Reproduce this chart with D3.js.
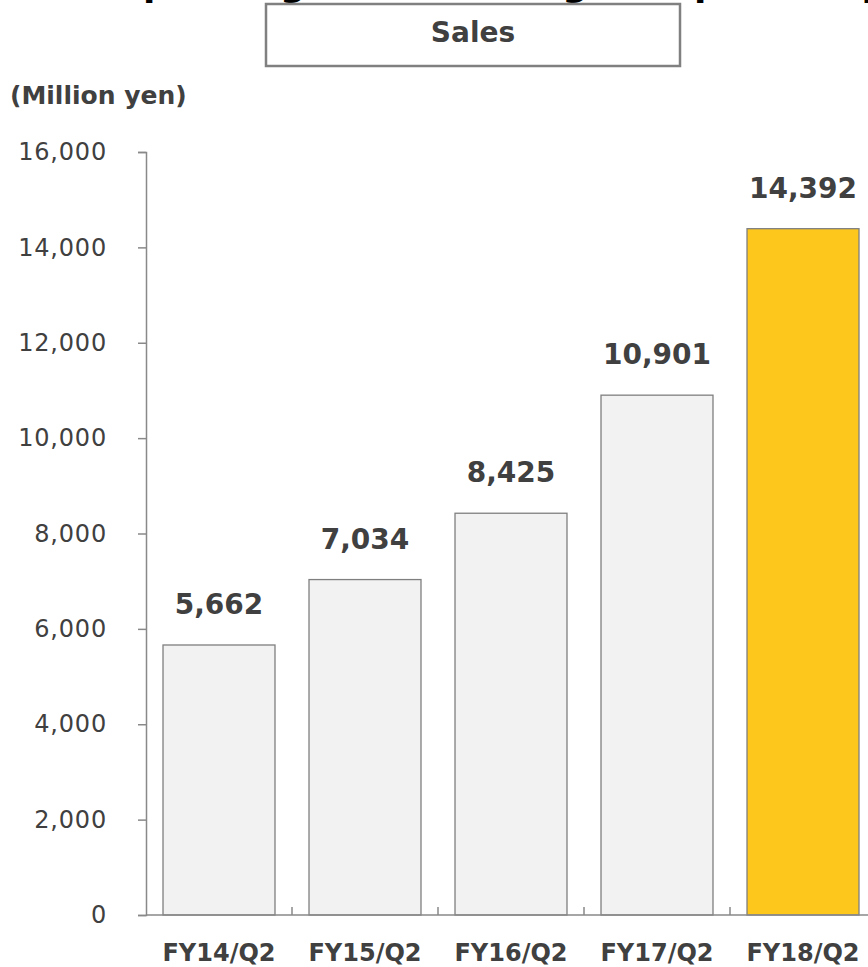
<!DOCTYPE html>
<html>
<head>
<meta charset="utf-8">
<script src="https://cdn.jsdelivr.net/npm/d3@7"></script>
<style>
  html, body { margin: 0; padding: 0; background: #fff; }
  svg { display: block; font-family: "DejaVu Sans", Verdana, sans-serif; }
</style>
</head>
<body>
<svg id="chart" width="868" height="967"></svg>
<script>
// Half-year (Q2 cumulative) sales, million yen
const categories = ["FY14/Q2", "FY15/Q2", "FY16/Q2", "FY17/Q2", "FY18/Q2"];
const sales = [5662, 7034, 8425, 10901, 14392];
const yTicks = [0, 2000, 4000, 6000, 8000, 10000, 12000, 14000, 16000];

const svg = d3.select("#chart");
const textColor = "#404040";
const axisColor = "#898989";

// Page headline (runs off the top edge of the slide)
const headline = svg.append("text")
  .attr("x", 0).attr("y", -4)
  .attr("font-size", 36).attr("font-weight", "bold").attr("fill", "#000")
  .text("Sales up 32% growth in a big H1 uptick to profit");
{
  const node = headline.node();
  const idx = node.textContent.indexOf("p");
  const px = node.getStartPositionOfChar(idx).x;
  headline.attr("x", 148 - 5 - px);
}

// Boxed panel title
svg.append("rect")
  .attr("x", 266).attr("y", 4).attr("width", 414).attr("height", 62)
  .attr("fill", "#fff").attr("stroke", "#808080").attr("stroke-width", 2.5);
svg.append("text")
  .attr("x", 473).attr("y", 42)
  .attr("text-anchor", "middle")
  .attr("font-size", 28).attr("font-weight", "bold").attr("fill", textColor)
  .text("Sales");

// Unit label
svg.append("text")
  .attr("x", 10).attr("y", 104)
  .attr("font-size", 25).attr("font-weight", "bold").attr("fill", textColor)
  .text("(Million yen)");

const y = d3.scaleLinear().domain([0, 16000]).range([915, 152]);
const x = d3.scaleBand().domain(categories).range([146, 876])
  .paddingInner(0.233).paddingOuter(0.1165);

// Y axis
const yAxis = svg.append("g")
  .attr("transform", "translate(146,0)")
  .call(d3.axisLeft(y).tickValues(yTicks).tickSize(8).tickPadding(31)
    .tickFormat(d3.format(",")));
yAxis.select(".domain").attr("stroke", axisColor).attr("stroke-width", 1.5);
yAxis.selectAll(".tick line").attr("stroke", axisColor).attr("stroke-width", 1.5);
yAxis.selectAll(".tick text")
  .attr("font-family", "DejaVu Sans, Verdana, sans-serif")
  .attr("font-size", 24).attr("letter-spacing", 0.8).attr("fill", textColor);

// Bars
svg.append("g").selectAll("rect")
  .data(categories)
  .join("rect")
  .attr("x", d => x(d))
  .attr("y", (d, i) => y(sales[i]))
  .attr("width", x.bandwidth())
  .attr("height", (d, i) => y(0) - y(sales[i]))
  .attr("fill", (d, i) => i === categories.length - 1 ? "#FEC71B" : "#F2F2F2")
  .attr("stroke", "#7F7F7F").attr("stroke-width", 1.3);

// X axis baseline with inward ticks at category boundaries
const xAxis = svg.append("g");
xAxis.append("line")
  .attr("x1", 146).attr("x2", 876)
  .attr("y1", y(0)).attr("y2", y(0))
  .attr("stroke", axisColor).attr("stroke-width", 1.5);
xAxis.selectAll("line.sep")
  .data(categories.slice(1))
  .join("line")
  .attr("class", "sep")
  .attr("x1", d => x(d) - x.step() * x.paddingInner() / 2)
  .attr("x2", d => x(d) - x.step() * x.paddingInner() / 2)
  .attr("y1", y(0)).attr("y2", y(0) - 8)
  .attr("stroke", axisColor).attr("stroke-width", 1.5);

// Category labels
svg.append("g").selectAll("text")
  .data(categories)
  .join("text")
  .attr("x", d => x(d) + x.bandwidth() / 2)
  .attr("y", 961)
  .attr("text-anchor", "middle")
  .attr("font-size", 24).attr("font-weight", "bold").attr("fill", textColor)
  .text(d => d);

// Value labels
svg.append("g").selectAll("text")
  .data(categories)
  .join("text")
  .attr("x", d => x(d) + x.bandwidth() / 2)
  .attr("y", (d, i) => y(sales[i]) - 31)
  .attr("text-anchor", "middle")
  .attr("font-size", 28).attr("font-weight", "bold").attr("fill", textColor)
  .text((d, i) => d3.format(",")(sales[i]));
</script>
</body>
</html>
